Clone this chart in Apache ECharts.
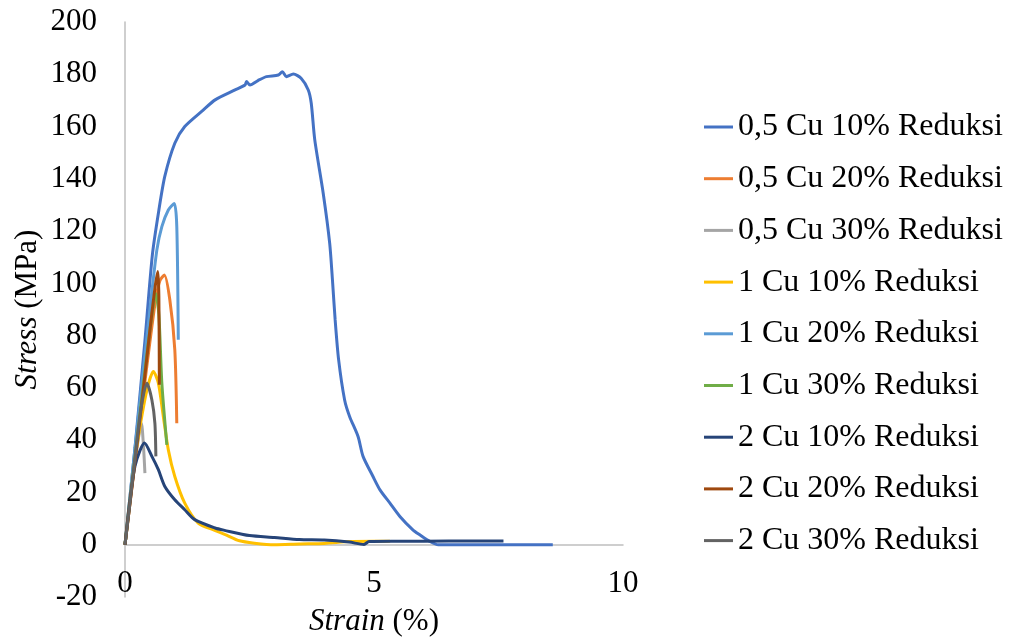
<!DOCTYPE html>
<html>
<head>
<meta charset="utf-8">
<script src="https://cdn.jsdelivr.net/npm/echarts@6/dist/echarts.min.js"></script>
<style>
  html, body { margin: 0; padding: 0; background: #fff; }
  #main { width: 1010px; height: 641px; }
</style>
</head>
<body>
<div id="main"></div>
<script>
var chart = echarts.init(document.getElementById('main'))

// series names (legend order)
var names = [
    '0,5 Cu 10% Reduksi', '0,5 Cu 20% Reduksi', '0,5 Cu 30% Reduksi',
    '1 Cu 10% Reduksi', '1 Cu 20% Reduksi', '1 Cu 30% Reduksi',
    '2 Cu 10% Reduksi', '2 Cu 20% Reduksi', '2 Cu 30% Reduksi'
]
var colors = ['#4472C4', '#ED7D31', '#A5A5A5', '#FFC000', '#5B9BD5', '#70AD47', '#264478', '#9E480E', '#636363']

// [strain %, stress MPa]
var cu05_10 = [[0, 0], [0.2, 37], [0.4, 78], [0.55, 111], [0.68, 128], [0.8, 141], [1.0, 153.6], [1.2, 160],
    [1.57, 166.3], [1.81, 170.2], [2.21, 174], [2.41, 175.9], [2.44, 177.2], [2.51, 175.9], [2.67, 177.6],
    [2.84, 179.1], [3.08, 179.7], [3.16, 181], [3.24, 179.1], [3.38, 180.1], [3.54, 178.4], [3.68, 174],
    [3.74, 168.9], [3.81, 155], [3.98, 134.5], [4.11, 115.4], [4.17, 100.1], [4.22, 86], [4.29, 70.7],
    [4.41, 55.4], [4.51, 49.1], [4.68, 41.4], [4.78, 33.8], [4.98, 26.1], [5.12, 21], [5.32, 15.9],
    [5.52, 10.8], [5.78, 5.7], [5.92, 3.8], [6.12, 1.3], [6.29, 0], [7.5, 0], [8.59, 0]]
var cu05_20 = [[0, 0], [0.3, 47], [0.6, 92], [0.7, 101], [0.79, 103.2], [0.9, 93.7], [1.0, 74.6], [1.04, 46.5]]
var cu05_30 = [[0, 0], [0.15, 25], [0.28, 42], [0.33, 46.5], [0.37, 38], [0.4, 27.4]]
var cu1_10 = [[0, 0], [0.15, 26], [0.3, 45], [0.45, 60], [0.57, 66.3], [0.67, 61.8], [0.77, 49], [0.87, 36.3],
    [1.0, 26.1], [1.2, 15.9], [1.47, 8.3], [1.8, 5.5], [2.0, 4], [2.3, 1.5], [2.6, 0.6], [3.0, 0],
    [3.5, 0.3], [4.0, 0.5], [4.5, 1.2], [5.0, 1.3], [5.32, 1.3]]
var cu1_20 = [[0, 0], [0.3, 55], [0.5, 90], [0.64, 112.8], [0.74, 121.7], [0.87, 128.1], [0.99, 130.6],
    [1.04, 121.7], [1.07, 78.4]]
var cu1_30 = [[0, 0], [0.3, 50], [0.5, 82], [0.62, 96], [0.68, 88], [0.74, 61.8], [0.84, 38.2]]
var cu2_10 = [[0, 0], [0.1, 17], [0.2, 30], [0.3, 36], [0.39, 38.9], [0.54, 33.8], [0.67, 28.7], [0.8, 22.3],
    [1.0, 17.2], [1.2, 13.4], [1.4, 9.6], [1.81, 6.4], [2.0, 5.5], [2.5, 3.5], [3.0, 2.8], [3.5, 2.0],
    [4.0, 1.8], [4.5, 1.0], [4.8, 0.1], [4.9, 1.2], [5.5, 1.3], [6.5, 1.4], [7.6, 1.4]]
var cu2_20 = [[0, 0], [0.3, 48], [0.5, 82], [0.6, 98], [0.66, 104.5], [0.68, 95], [0.69, 61.2]]
var cu2_30 = [[0, 0], [0.1, 16], [0.2, 33], [0.32, 52], [0.44, 61.8], [0.54, 55.4], [0.6, 46.5], [0.62, 33.8]]

var seriesData = [cu05_10, cu05_20, cu05_30, cu1_10, cu1_20, cu1_30, cu2_10, cu2_20, cu2_30]

var fontFamily = '"Liberation Serif", "Times New Roman", serif'

var series = []
for (var i = 0; i < names.length; i++) {
    series.push({
        name: names[i],
        type: 'line',
        data: seriesData[i],
        symbol: 'none',
        smooth: 0.25,
        color: colors[i],
        lineStyle: { width: 3, color: colors[i] },
        z: 2 + i
    })
}

var option = {
    animation: false,
    grid: { left: 125, right: 387, top: 22, bottom: 44, containLabel: false, outerBoundsMode: 'none' },
    legend: {
        orient: 'vertical',
        left: 704,
        top: 111,
        padding: 0,
        icon: 'rect',
        itemWidth: 29,
        itemHeight: 3,
        itemGap: 19.7,
        data: names,
        textStyle: { fontFamily: fontFamily, fontSize: 32, color: '#000', lineHeight: 32 }
    },
    xAxis: {
        type: 'value',
        min: 0,
        max: 10,
        interval: 5,
        name: '{i|Strain} (%)',
        nameLocation: 'middle',
        nameGap: 9,
        nameTextStyle: {
            fontFamily: fontFamily, fontSize: 31, color: '#000',
            rich: { i: { fontStyle: 'italic', fontFamily: fontFamily, fontSize: 31, color: '#000' } }
        },
        axisLine: { onZero: true, lineStyle: { color: '#bfbfbf', width: 1.5 } },
        axisTick: { show: false },
        splitLine: { show: false },
        axisLabel: { margin: -29, fontFamily: fontFamily, fontSize: 31, color: '#000' }
    },
    yAxis: {
        type: 'value',
        min: -20,
        max: 200,
        interval: 20,
        name: '{i|Stress} (MPa)',
        nameLocation: 'middle',
        nameRotate: 90,
        nameGap: 82,
        nameTextStyle: {
            fontFamily: fontFamily, fontSize: 31, color: '#000',
            rich: { i: { fontStyle: 'italic', fontFamily: fontFamily, fontSize: 31, color: '#000' } }
        },
        axisLine: { show: true, onZero: false, lineStyle: { color: '#bfbfbf', width: 1.5 } },
        axisTick: { show: false },
        splitLine: { show: false },
        axisLabel: { margin: 28, fontFamily: fontFamily, fontSize: 31, color: '#000' }
    },
    series: series
}

chart.setOption(option)
</script>
</body>
</html>
